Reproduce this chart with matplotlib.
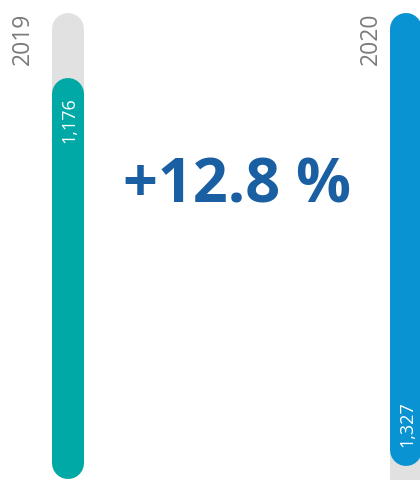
import matplotlib
matplotlib.use("Agg")
import matplotlib.pyplot as plt

years = ["2019", "2020"]
values = [1176, 1327]
value_labels = ["1,176", "1,327"]
change_label = "+12.8 %"

W, H, DPI = 420, 480, 100
fig = plt.figure(figsize=(W / DPI, H / DPI), dpi=DPI)
ax = fig.add_axes([0, 0, 1, 1])
ax.set_axis_off()

px_per_unit = 0.341          # vertical scale (pixels per value unit)
ymax = H / px_per_unit
ax.set_xlim(0, W)
ax.set_ylim(0, ymax)

bar_px = 32
lw_pt = bar_px * 72 / DPI
r = (bar_px / 2) / px_per_unit   # cap radius in value units
track_top = (H - 13) / px_per_unit

teal = "#00a9a6"
blue = "#0a93d3"
gray = "#e1e1e1"
txt_gray = "#7a7a7a"

def bar(x, y0, y1, color, z):
    ax.plot([x, x], [y0 + r, y1 - r], color=color, lw=lw_pt,
            solid_capstyle="round", zorder=z)

xs = [68, 406]
# 2019: bar grows from bottom
base0 = 2
bar(xs[0], base0, track_top, gray, 1)
bar(xs[0], base0, base0 + values[0], teal, 2)
# 2020: bar hangs from top
bar(xs[1], -200, track_top, gray, 1)
bar(xs[1], track_top - values[1], track_top, blue, 2)

font = "Open Sans"
ax.text(xs[0] - 45, track_top + 1, years[0], rotation=90, ha="center", va="top",
        fontsize=16.5, color=txt_gray, family=font)
ax.text(xs[1] - 35, track_top + 1, years[1], rotation=90, ha="center", va="top",
        fontsize=16.5, color=txt_gray, family=font)

ax.text(xs[0] + 1, base0 + values[0] - 19 / px_per_unit, value_labels[0], rotation=90,
        ha="center", va="top", fontsize=13, color="white", family=font)
ax.text(xs[1] + 1, track_top - values[1] + 19 / px_per_unit, value_labels[1], rotation=90,
        ha="center", va="bottom", fontsize=13, color="white", family=font)

ax.text(237, (H - 187) / px_per_unit, change_label, ha="center", va="center",
        fontsize=44, fontweight="bold", color="#1b5fa3", family=font)

fig.savefig("out.png", dpi=DPI, facecolor="white")
